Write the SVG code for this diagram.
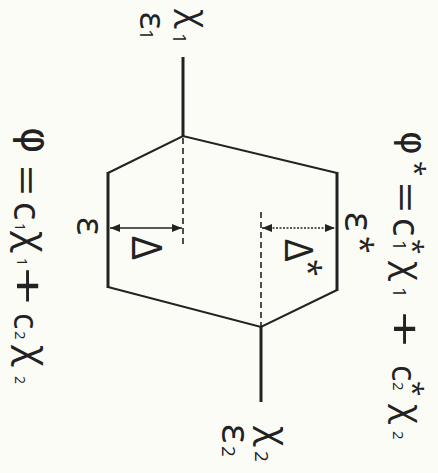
<svg xmlns="http://www.w3.org/2000/svg" width="438" height="473" viewBox="0 0 438 473">
<style>
.t{font-family:"Open Sans","DejaVu Sans",sans-serif;font-weight:400;fill:#222}
.ph{font-family:"DejaVu Sans",sans-serif}
.thick{stroke:#222;stroke-width:3;fill:none;stroke-linecap:butt}
.thin{stroke:#222;stroke-width:2;fill:none;stroke-linejoin:miter}
.dash{stroke:#222;stroke-width:1.6;fill:none;stroke-dasharray:6 4}
.arr{stroke:#222;stroke-width:1.5;fill:none}
</style>
<defs>
<marker id="ah" viewBox="0 0 10 8" refX="10" refY="4" markerWidth="10" markerHeight="8" markerUnits="userSpaceOnUse" orient="auto-start-reverse">
<path d="M0,0 L10,4 L0,8 Z" fill="#222"/>
</marker>
</defs>
<rect width="438" height="473" fill="#fcfcf6"/>
<g id="connectors">
<line class="thick" x1="183" y1="57" x2="183" y2="136"/>
<line class="thick" x1="261" y1="327" x2="261" y2="402"/>
<polyline class="thin" points="108,173 183,136 337,173"/>
<polyline class="thin" points="108,287 261,327 337,290"/>
<line class="thick" x1="108" y1="172" x2="108" y2="288"/>
<line class="thick" x1="337" y1="172" x2="337" y2="291"/>
<line class="dash" x1="183" y1="138" x2="183" y2="248"/>
<line class="dash" x1="261" y1="212" x2="261" y2="326"/>
<line class="arr" x1="110" y1="228" x2="182" y2="228" marker-start="url(#ah)" marker-end="url(#ah)"/>
<line class="arr" x1="262" y1="228" x2="335" y2="228" stroke-dasharray="2 1.5" marker-start="url(#ah)" marker-end="url(#ah)"/>
</g>
<g id="label-x1"><text class="t" transform="rotate(90)"><tspan x="9" y="-183" font-size="36">χ</tspan><tspan x="33" y="-173" font-size="19">1</tspan></text></g>
<g id="label-e1"><text class="t" transform="rotate(90)"><tspan x="12" y="-140" font-size="36">ε</tspan><tspan x="29" y="-140" font-size="19">1</tspan></text></g>
<g id="label-x2"><text class="t" transform="rotate(90)"><tspan x="426" y="-262" font-size="38">χ</tspan><tspan x="451" y="-255" font-size="19">2</tspan></text></g>
<g id="label-e2"><text class="t" transform="rotate(90)"><tspan x="424" y="-222" font-size="40">ε</tspan><tspan x="446" y="-222" font-size="19">2</tspan></text></g>
<g id="label-e"><text class="t" transform="rotate(90)" x="217" y="-77" font-size="38">ε</text></g>
<g id="label-estar"><text class="t" transform="rotate(90)"><tspan x="212" y="-345" font-size="40">ε</tspan><tspan x="236" y="-349" font-size="32">*</tspan></text></g>
<g id="label-delta"><text class="t" transform="rotate(90)" x="236" y="-132" font-size="42" textLength="24" lengthAdjust="spacingAndGlyphs">Δ</text></g>
<g id="label-deltastar"><text class="t" transform="rotate(90)"><tspan x="239" y="-285" font-size="39">Δ</tspan><tspan x="259" y="-297" font-size="32">*</tspan></text></g>
<g id="formula-left"><text class="t" transform="rotate(90)"><tspan class="ph" x="127" y="-22" font-size="40">φ</tspan><tspan x="165" y="-12" font-size="40" textLength="31" lengthAdjust="spacingAndGlyphs">=</tspan><tspan x="202" y="-14" font-size="38">c</tspan><tspan x="223" y="-15" font-size="14">1</tspan><tspan x="231" y="-20" font-size="40">χ</tspan><tspan x="258" y="-17" font-size="14">1</tspan><tspan x="267" y="-12" font-size="44" textLength="38" lengthAdjust="spacingAndGlyphs">+</tspan><tspan x="313" y="-14" font-size="34">c</tspan><tspan x="331" y="-15" font-size="15">2</tspan><tspan x="345" y="-21" font-size="40">χ</tspan><tspan x="376" y="-15" font-size="14">2</tspan></text></g>
<g id="formula-right"><text class="t" transform="rotate(90)"><tspan class="ph" x="131" y="-401" font-size="36">φ</tspan><tspan x="161" y="-405" font-size="28">*</tspan><tspan x="182" y="-391" font-size="40" textLength="31" lengthAdjust="spacingAndGlyphs">=</tspan><tspan x="218" y="-393" font-size="38">c</tspan><tspan x="240" y="-393" font-size="19">1</tspan><tspan x="239" y="-403" font-size="28">*</tspan><tspan x="261" y="-397" font-size="37">χ</tspan><tspan x="287" y="-393" font-size="19">1</tspan><tspan x="311" y="-389" font-size="44" textLength="36" lengthAdjust="spacingAndGlyphs">+</tspan><tspan x="365" y="-392" font-size="34">c</tspan><tspan x="382" y="-393" font-size="15">2</tspan><tspan x="381" y="-403" font-size="28">*</tspan><tspan x="404" y="-397" font-size="37">χ</tspan><tspan x="431" y="-393" font-size="15">2</tspan></text></g>
</svg>
